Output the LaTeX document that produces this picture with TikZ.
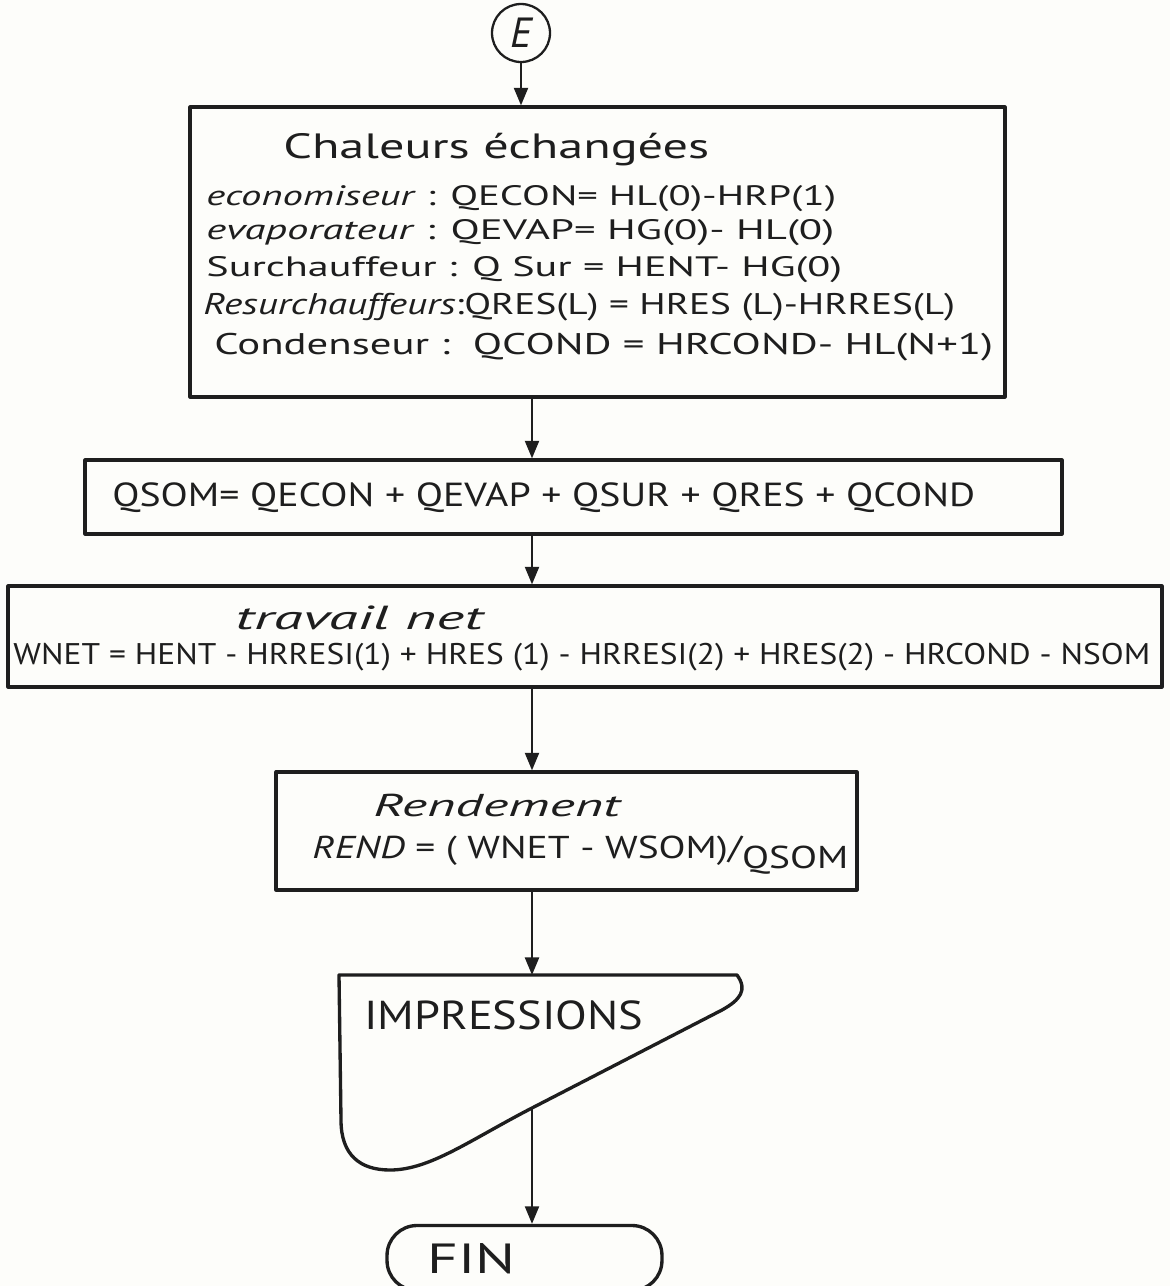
\documentclass[tikz,border=0pt]{standalone}
\usepackage{fontspec}
\setmainfont{PT Sans}
\usepackage{graphicx}
\usetikzlibrary{arrows.meta}
\definecolor{ink}{HTML}{1E1E1E}
\definecolor{paper}{HTML}{FDFDFA}
% set a line at a given size, then stretch it horizontally to a given width
\newcommand{\fitto}[3]{\resizebox{#1}{\height}{\fontsize{#2}{#2}\selectfont #3}}
\begin{document}
\begin{tikzpicture}[x=0.02cm,y=-0.02cm,
  boxline/.style={draw=ink,line width=1.9pt,inner sep=0pt},
  flow/.style={draw=ink,line width=1.2pt,-{Triangle[length=10pt,width=8pt]}},
  txt/.style={anchor=west,inner sep=0pt,text=ink},
  line join=round,line cap=round]
\clip (0,0) rectangle (1170,1286);
\fill[paper] (0,0) rectangle (1170,1286);

% start connector
\node[draw=ink,line width=1.3pt,circle,minimum size=1.16cm,inner sep=0pt,
      font=\fontsize{24}{24}\selectfont\itshape,text=ink] (e) at (521,33) {E};

% heat exchanged
\node[boxline,minimum width=16.3cm,minimum height=5.8cm] (b1) at (597.5,252) {};
\node[txt] (t1) at (283,150) {\fitto{8.52cm}{20}{Chaleurs échangées}};
\node[txt] (t2) at (206,199) {\fitto{12.6cm}{16}{\textit{economiseur} : QECON= HL(0)-HRP(1)}};
\node[txt] (t3) at (206,233) {\fitto{12.56cm}{16}{\textit{evaporateur} : QEVAP= HG(0)- HL(0)}};
\node[txt] (t4) at (206,270) {\fitto{12.72cm}{16}{Surchauffeur : Q Sur = HENT- HG(0)}};
\node[txt] (t5) at (203,307) {\fitto{15.04cm}{17}{\textit{Resurchauffeurs}:QRES(L) = HRES (L)-HRRES(L)}};
\node[txt] (t6) at (214,347) {\fitto{15.58cm}{17}{Condenseur :\ \ QCOND = HRCOND- HL(N+1)}};

% total heat
\node[boxline,minimum width=19.54cm,minimum height=1.48cm] (b2) at (573.5,497) {};
\node[txt] (t7) at (112,498) {\fitto{17.26cm}{19}{QSOM= QECON + QEVAP + QSUR + QRES + QCOND}};

% net work
\node[boxline,minimum width=23.08cm,minimum height=2.02cm] (b3) at (585,636.5) {};
\node[txt] (t8) at (235,618) {\fitto{5.0cm}{19}{\textit{travail net}}};
\node[txt] (t9) at (13,657) {\fitto{22.74cm}{17}{WNET = HENT - HRRESI(1) + HRES (1) - HRRESI(2) + HRES(2) - HRCOND - NSOM}};

% efficiency
\node[boxline,minimum width=11.62cm,minimum height=2.36cm] (b4) at (566.5,831) {};
\node[txt] (t10) at (373,805) {\fitto{4.98cm}{18}{\textit{Rendement}}};
\node[txt] (t11) at (312,855) {\fitto{10.72cm}{18}{\textit{REND} = ( WNET - WSOM)/\raisebox{-0.3em}{QSOM}}};

% output (document symbol)
\draw[ink,line width=1.9pt] (339,975) -- (737,975)
  .. controls (748,990) and (740,1000) .. (722,1010) -- (532,1108)
  .. controls (470,1140) and (430,1170) .. (390,1170)
  .. controls (360,1170) and (341,1155) .. (341,1120) -- cycle;
\node[txt] (t12) at (364,1015) {\fitto{5.58cm}{23}{IMPRESSIONS}};
\coordinate (imptop) at (532,975);
\coordinate (impout) at (532,1108);

% end terminal
\node[boxline,minimum width=5.5cm,minimum height=1.3cm,rounded corners=0.6cm] (fin) at (524.5,1258) {};
\node[txt] (t13) at (427,1259) {\fitto{1.76cm}{24}{FIN}};

% connectors
\coordinate (ax) at (532,0);
\draw[flow] (e.south) -- (b1.north -| e.south);
\draw[flow] (b1.south -| ax) -- (b2.north -| ax);
\draw[flow] (b2.south -| ax) -- (b3.north -| ax);
\draw[flow] (b3.south -| ax) -- (b4.north -| ax);
\draw[flow] (b4.south -| ax) -- (imptop);
\draw[flow] (impout) -- (fin.north -| impout);
\end{tikzpicture}
\end{document}
